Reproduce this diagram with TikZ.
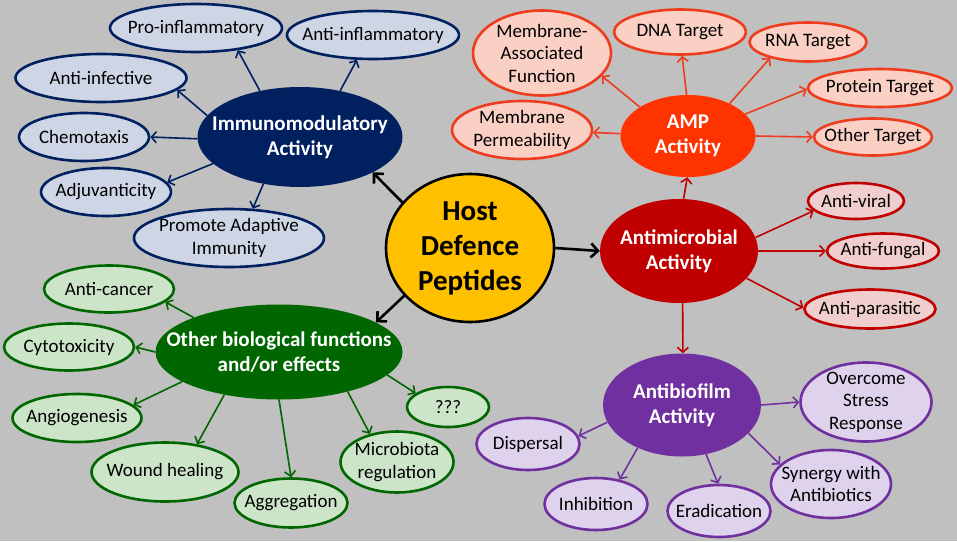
\documentclass[tikz,border=0pt]{standalone}
\usepackage{fontspec}
\setmainfont{Carlito}
\usetikzlibrary{shapes.geometric,arrows.meta}
\definecolor{bg}{RGB}{192,192,192}
\definecolor{imfill}{RGB}{0,32,96}
\definecolor{imlight}{RGB}{206,214,230}
\definecolor{ampfill}{RGB}{255,51,0}
\definecolor{ampline}{RGB}{238,60,30}
\definecolor{amplight}{RGB}{250,208,196}
\definecolor{amcfill}{RGB}{192,0,0}
\definecolor{amclight}{RGB}{240,206,206}
\definecolor{biofill}{RGB}{112,48,160}
\definecolor{biolight}{RGB}{222,210,236}
\definecolor{othfill}{RGB}{0,102,0}
\definecolor{othlight}{RGB}{204,228,200}
\definecolor{hostfill}{RGB}{255,192,0}
\newcommand\bub[6]{%
  \node[#1, minimum width=#4pt, minimum height=#5pt] (#2) at (#3) {};
  \node[#1 text] (#2-t) at (#2.center) {#6};
}
\tikzset{
  ell/.style={ellipse, inner sep=0pt},
  child/.style={ell, draw, line width=2.6pt},
  ctext/.style={font=\fontsize{19}{22.5}\selectfont, align=center, inner sep=0pt, text=black},
  mtext/.style={font=\fontsize{21}{25}\selectfont\bfseries, align=center, inner sep=0pt, text=white},
  imc/.style={child, draw=imfill, fill=imlight}, imc text/.style={ctext},
  amc/.style={child, draw=ampline, fill=amplight}, amc text/.style={ctext},
  mic/.style={child, draw=amcfill, fill=amclight}, mic text/.style={ctext},
  bic/.style={child, draw=biofill, fill=biolight}, bic text/.style={ctext},
  otc/.style={child, draw=othfill, fill=othlight}, otc text/.style={ctext},
  imm/.style={ell, fill=imfill}, imm text/.style={mtext},
  ampm/.style={ell, fill=ampfill}, ampm text/.style={mtext},
  micm/.style={ell, fill=amcfill}, micm text/.style={mtext},
  biom/.style={ell, fill=biofill}, biom text/.style={mtext},
  othm/.style={ell, fill=othfill}, othm text/.style={mtext},
  hostm/.style={ell, fill=hostfill, draw=black, line width=2.6pt},
  hostm text/.style={font=\fontsize{29}{35}\selectfont\bfseries, align=center, inner sep=0pt, text=black},
  ar/.style={-{Straight Barb[length=5pt,width=11pt,line width=1.6pt]}, line width=1.6pt},
  har/.style={-{Straight Barb[length=7pt,width=14pt,line width=2.6pt]}, line width=2.6pt, draw=black},
}
\begin{document}
\begin{tikzpicture}[x=1pt,y=-1pt]
\fill[bg] (0,0) rectangle (957,541);
\useasboundingbox (0,0) rectangle (957,541);

% Immunomodulatory
\bub{imc}{pro}{196,28}{172}{48}{Pro-inflammatory}
\bub{imc}{antiinf}{373,35}{172}{48}{Anti-inflammatory}
\bub{imc}{antiinfec}{101,78}{171}{48}{Anti-infective}
\bub{imc}{chemo}{84,137}{130}{48}{Chemotaxis}
\bub{imc}{adj}{106,192}{130}{48}{Adjuvanticity}
\bub{imc}{prom}{229,238}{190}{58}{Promote Adaptive\\Immunity}
\bub{imm}{immu}{300,137}{205}{100}{Immunomodulatory\\Activity}

% Host
\bub{hostm}{host}{470,248}{168}{148}{Host\\Defence\\Peptides}

% AMP
\bub{amc}{ma}{542,53}{138}{85}{Membrane-\\Associated\\Function}
\bub{amc}{dna}{680,32}{132}{45}{DNA Target}
\bub{amc}{rna}{808,42}{117}{39}{RNA Target}
\bub{amc}{prot}{880,88}{144}{38}{Protein Target}
\bub{amc}{othert}{873,137}{118}{37}{Other Target}
\bub{amc}{mp}{522,130}{140}{58}{Membrane\\Permeability}
\bub{ampm}{amp}{688,136}{135}{82}{AMP\\Activity}

% Antimicrobial
\bub{micm}{amic}{679,251}{158}{104}{Antimicrobial\\Activity}
\bub{mic}{viral}{856,201}{96}{36}{Anti-viral}
\bub{mic}{fungal}{883,251}{112}{35}{Anti-fungal}
\bub{mic}{paras}{870,309}{131}{39}{Anti-parasitic}

% Antibiofilm
\bub{biom}{bio}{682,405}{158}{103}{Antibiofilm\\Activity}
\bub{bic}{over}{866,402}{131}{79}{Overcome\\Stress\\Response}
\bub{bic}{disp}{528,444}{103}{52}{Dispersal}
\bub{bic}{inhib}{596,504}{103}{52}{Inhibition}
\bub{bic}{erad}{719,511}{103}{52}{Eradication}
\bub{bic}{syn}{831,484}{120}{68}{Synergy with\\Antibiotics}

% Other
\bub{othm}{oth}{279,352}{247}{95}{Other biological functions\\and/or effects}
\bub{otc}{cancer}{109,289}{130}{47}{Anti-cancer}
\bub{otc}{cyto}{69,347}{130}{47}{Cytotoxicity}
\bub{otc}{angio}{77,418}{129}{48}{Angiogenesis}
\bub{otc}{wound}{165,472}{147}{59}{Wound healing}
\bub{otc}{aggr}{291,503}{113}{49}{Aggregation}
\bub{otc}{micro}{397,462}{113}{61}{Microbiota\\regulation}
\bub{otc}{qqq}{448,407}{82}{40}{???}

% Host arrows
\draw[har] (host.146) -- (immu.-26);
\draw[har] (host.0) -- (amic.180);
\draw[har] (host.216) -- (oth.17);

% Immuno arrows
\draw[ar, imfill] (immu.131) -- (pro.-28);
\draw[ar, imfill] (immu.49) -- (antiinf.237);
\draw[ar, imfill] (immu.167) -- (antiinfec.-9);
\draw[ar, imfill] (immu.181) -- (chemo.0);
\draw[ar, imfill] (immu.197) -- (adj.9);
\draw[ar, imfill] (immu.232) -- (prom.51);

% AMP arrows
\draw[ar, ampline] (amp.149) -- (ma.-21);
\draw[ar, ampline] (amp.92) -- (dna.-85);
\draw[ar, ampline] (amp.38) -- (rna.203);
\draw[ar, ampline] (amp.21) -- (prot.181);
\draw[ar, ampline] (amp.0) -- (othert.180);
\draw[ar, ampline] (amp.178) -- (mp.-2);

% Antimicrobial arrows
\draw[ar, amcfill] (amic.85) -- (amp.269);
\draw[ar, amcfill] (amic.10) -- (viral.193);
\draw[ar, amcfill] (amic.0) -- (fungal.180);
\draw[ar, amcfill] (amic.-22) -- (paras.179);
\draw[ar, amcfill] (amic.-86) -- (bio.89);

% Antibiofilm arrows
\draw[ar, biofill] (bio.0) -- (over.180);
\draw[ar, biofill] (bio.193) -- (disp.9);
\draw[ar, biofill] (bio.224) -- (inhib.46);
\draw[ar, biofill] (bio.-64) -- (erad.92);
\draw[ar, biofill] (bio.-23) -- (syn.159);

% Other arrows
\draw[ar, othfill] (oth.158) -- (cancer.-13);
\draw[ar, othfill] (oth.180) -- (cyto.0);
\draw[ar, othfill] (oth.197) -- (angio.13);
\draw[ar, othfill] (oth.218) -- (wound.41);
\draw[ar, othfill] (oth.270) -- (aggr.90);
\draw[ar, othfill] (oth.-30) -- (micro.134);
\draw[ar, othfill] (oth.-12) -- (qqq.157);
\end{tikzpicture}
\end{document}
